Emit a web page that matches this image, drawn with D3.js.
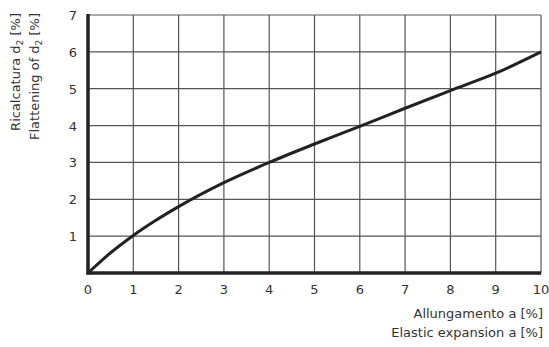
<!DOCTYPE html>
<html><head><meta charset="utf-8">
<script src="https://cdn.jsdelivr.net/npm/d3@7"></script>
<style>body{margin:0;background:#fff}text{font-family:"DejaVu Sans",sans-serif;fill:#333}</style>
</head><body><svg id="c" width="549" height="347"></svg>
<script>
const xTicks = [0,1,2,3,4,5,6,7,8,9,10];
const yTicks = [1,2,3,4,5,6,7];
const curveX = [0, 0.5, 1, 1.5, 2, 3, 4, 5, 6, 7, 8, 9, 10];
const curveY = [0, 0.55, 1.02, 1.43, 1.8, 2.45, 3.0, 3.5, 3.98, 4.47, 4.95, 5.42, 6.0];
const xTitle = ["Allungamento a [%]", "Elastic expansion a [%]"];

const svg = d3.select("#c");
const x = d3.scaleLinear().domain([0,10]).range([88,541]);
const y = d3.scaleLinear().domain([0,7]).range([273,15]);

const g = svg.append("g");
// grid
g.selectAll(".vg").data(xTicks.slice(1)).enter().append("line")
  .attr("x1",d=>x(d)).attr("x2",d=>x(d)).attr("y1",y(0)).attr("y2",y(7))
  .attr("stroke","#555").attr("stroke-width",1.2);
g.selectAll(".hg").data(yTicks).enter().append("line")
  .attr("x1",x(0)).attr("x2",x(10)).attr("y1",d=>y(d)).attr("y2",d=>y(d))
  .attr("stroke","#555").attr("stroke-width",1.2);
// axes
g.append("line").attr("x1",x(0)).attr("x2",x(0)).attr("y1",y(0)+1.5).attr("y2",y(7)-1)
  .attr("stroke","#222").attr("stroke-width",3.5);
g.append("line").attr("x1",x(0)-1.5).attr("x2",x(10)).attr("y1",y(0)).attr("y2",y(0))
  .attr("stroke","#222").attr("stroke-width",3.5);
// tick labels
g.selectAll(".xl").data(xTicks).enter().append("text")
  .attr("x",d=>x(d)).attr("y",294).attr("text-anchor","middle")
  .attr("font-size",13).text(d=>d);
g.selectAll(".yl").data(yTicks).enter().append("text")
  .attr("x",77).attr("y",d=>y(d)+5).attr("text-anchor","end")
  .attr("font-size",13).text(d=>d);
// curve
const pts = curveX.map((v,i)=>[v,curveY[i]]);
g.append("path").datum(pts)
  .attr("d", d3.line().x(d=>x(d[0])).y(d=>y(d[1])).curve(d3.curveMonotoneX))
  .attr("fill","none").attr("stroke","#222").attr("stroke-width",3);
// x title
xTitle.forEach((t,i)=>{
  g.append("text").attr("x",543).attr("y",318+i*19).attr("text-anchor","end")
   .attr("font-size",13).text(t);
});
// y title
function yt(xp, pre){
  const t = g.append("text").attr("transform",`translate(${xp},13) rotate(-90)`)
    .attr("text-anchor","end").attr("font-size",13);
  t.append("tspan").text(pre+" d");
  t.append("tspan").attr("font-size",9).attr("dy",3).text("2");
  t.append("tspan").attr("dy",-3).text(" [%]");
}
yt(20, "Ricalcatura");
yt(39, "Flattening of");
</script></body></html>
